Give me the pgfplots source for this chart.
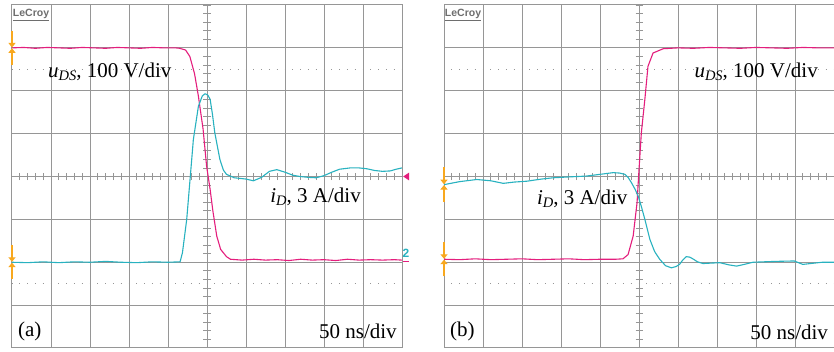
\documentclass[border=0pt]{standalone}
\usepackage{pgfplots}
\pgfplotsset{compat=1.18}
\usepackage{fontspec}
\setmainfont{Liberation Serif}
\newfontfamily\logofont{Liberation Sans}
\usetikzlibrary{arrows.meta}
\definecolor{magen}{RGB}{228,30,125}
\definecolor{cyanT}{RGB}{40,178,192}
\definecolor{gridc}{RGB}{150,150,150}
\definecolor{orangeM}{RGB}{248,168,30}
\definecolor{logoc}{RGB}{110,110,110}
\newcommand{\lab}{\fontsize{21}{25}\selectfont}
\newcommand{\sub}[1]{\raisebox{-0.3ex}{\fontsize{14.5}{14.5}\selectfont\itshape #1}}
\pgfplotsset{scopestyle/.style={
  scale only axis, width=390pt, height=343pt,
  xmin=0, xmax=10, ymin=-4, ymax=4,
  xtick={0,...,10}, ytick={-4,...,4}, xticklabels={}, yticklabels={},
  major tick length=0pt,
  grid=major, grid style={gridc, line width=1pt},
  axis line style={gridc, line width=1pt},
  clip=false, anchor=south west,
},
trace/.style={line width=1.1pt, line join=round, mark=none}}

\pgfplotstableread{
x y
0 3.00
0.3 3.01
0.6 2.99
0.9 3.01
1.2 3.00
1.5 2.99
1.8 3.01
2.1 3.00
2.4 2.99
2.7 3.01
3.0 3.00
3.3 2.99
3.6 3.01
3.9 3.00
4.2 3.00
4.3 2.99
4.45 2.95
4.56 2.80
4.68 2.40
4.78 1.87
4.90 1.10
4.99 0.24
5.08 -0.30
5.15 -0.80
5.25 -1.39
5.35 -1.70
5.50 -1.87
5.60 -1.93
5.9 -1.95
6.2 -1.93
6.5 -1.95
6.8 -1.94
7.1 -1.96
7.4 -1.93
7.7 -1.95
8.0 -1.94
8.3 -1.96
8.6 -1.93
8.9 -1.95
9.2 -1.94
9.5 -1.95
9.8 -1.94
10 -1.95
}\Au
\pgfplotstableread{
x y
0 -2.00
0.4 -2.01
0.8 -1.99
1.2 -2.01
1.6 -1.99
2.0 -2.00
2.4 -1.98
2.8 -2.00
3.2 -2.01
3.6 -1.99
4.0 -2.00
4.31 -1.99
4.37 -1.78
4.48 -1.00
4.58 0.09
4.65 0.86
4.78 1.64
4.88 1.88
4.95 1.93
5.02 1.90
5.08 1.80
5.14 1.45
5.20 1.02
5.33 0.40
5.42 0.15
5.50 0.05
5.7 -0.03
6.0 -0.06
6.19 -0.10
6.4 -0.02
6.6 0.12
6.79 0.16
7.0 0.10
7.2 0.03
7.38 0.00
7.6 -0.02
7.8 -0.03
8.0 0.02
8.2 0.10
8.4 0.17
8.67 0.20
8.9 0.20
9.1 0.18
9.3 0.14
9.5 0.12
9.7 0.13
9.85 0.17
10 0.20
}\Ai
\pgfplotstableread{
x y
0 -1.93
0.4 -1.94
0.8 -1.92
1.2 -1.94
1.6 -1.93
2.0 -1.92
2.4 -1.94
2.8 -1.93
3.2 -1.92
3.6 -1.94
4.0 -1.93
4.4 -1.93
4.59 -1.92
4.72 -1.82
4.85 -1.39
4.95 -0.61
5.00 0.16
5.06 1.02
5.15 1.80
5.23 2.57
5.36 2.88
5.62 2.98
6.0 3.00
6.4 2.99
6.8 3.01
7.2 3.00
7.6 2.99
8.0 3.01
8.4 3.00
8.8 2.99
9.2 3.01
9.6 3.00
10 3.00
}\Bu
\pgfplotstableread{
x y
0 -0.19
0.4 -0.12
0.84 -0.07
1.2 -0.10
1.52 -0.16
1.8 -0.13
2.12 -0.11
2.5 -0.06
2.8 -0.03
3.2 -0.01
3.65 0.01
4.0 0.05
4.34 0.09
4.5 0.08
4.64 0.05
4.72 -0.02
4.81 -0.15
4.90 -0.30
4.98 -0.46
5.06 -0.70
5.15 -1.00
5.28 -1.47
5.40 -1.75
5.53 -1.93
5.68 -2.08
5.83 -2.13
5.95 -2.10
6.04 -2.05
6.12 -1.95
6.21 -1.87
6.30 -1.88
6.38 -1.92
6.5 -1.99
6.64 -2.03
6.85 -2.02
7.07 -2.01
7.3 -2.06
7.5 -2.09
7.7 -2.05
7.92 -2.00
8.2 -1.99
8.5 -1.98
8.98 -1.97
9.2 -2.05
9.4 -2.03
9.7 -2.00
10 -2.00
}\Bi

\newcommand{\scopedeco}{%
  \draw[gridc, line width=0.9pt, dash pattern=on 1pt off 6.8pt, dash phase=-7.3pt] (axis cs:0,2.5) -- (axis cs:10,2.5);
  \draw[gridc, line width=0.9pt, dash pattern=on 1pt off 6.8pt, dash phase=-7.3pt] (axis cs:0,-2.5) -- (axis cs:10,-2.5);
  \pgfplotsinvokeforeach{0.2,0.4,...,9.9}{\draw[gridc, line width=0.8pt] (axis cs:##1,-0.085) -- (axis cs:##1,0.085);}
  \pgfplotsinvokeforeach{-3.8,-3.6,...,3.9}{\draw[gridc, line width=0.8pt] (axis cs:4.91,##1) -- (axis cs:5.09,##1);}
  \node[anchor=north west, inner sep=0, text=logoc] at (axis cs:0.02,3.90) {\logofont\bfseries\fontsize{10.5}{11}\selectfont\underline{LeCroy}};
}
\newcommand{\gndmark}[1]{%
  \draw[orangeM, line width=2.6pt, -{Triangle[width=7pt,length=4.5pt]}] (axis cs:0,#1+0.4) -- (axis cs:0,#1+0.01);
  \draw[orangeM, line width=2.6pt, -{Triangle[width=7pt,length=4.5pt]}] (axis cs:0,#1-0.4) -- (axis cs:0,#1-0.01);
}

\begin{document}
\begin{tikzpicture}
\fill[white] (0,0) rectangle (834pt,352pt);
\begin{axis}[scopestyle, at={(12pt,4pt)}]
  \scopedeco
  \addplot[trace, magen] table[x=x,y=y] {\Au};
  \addplot[trace, cyanT] table[x=x,y=y] {\Ai};
  \gndmark{3.0}
  \gndmark{-2.0}
  \fill[magen] (axis cs:10.03,0) -- (axis cs:10.18,0.09) -- (axis cs:10.18,-0.09) -- cycle;
  \node[text=cyanT, anchor=south west, inner sep=0] at (axis cs:10.01,-1.9) {\logofont\bfseries\fontsize{12}{12}\selectfont 2};
  \draw[magen, line width=1.6pt] (axis cs:10.02,-1.98) -- (axis cs:10.17,-1.98);
  \node[anchor=base west, inner sep=0] at (axis cs:0.92,2.31) {\lab\textit{u}\sub{DS}, 100 V/div};
  \node[anchor=base west, inner sep=0] at (axis cs:6.62,-0.6) {\lab\textit{i}\sub{D}, 3 A/div};
  \node[anchor=base west, inner sep=0] at (axis cs:0.15,-3.74) {\lab (a)};
  \node[anchor=base east, inner sep=0] at (axis cs:9.87,-3.78) {\lab 50 ns/div};
\end{axis}
\begin{axis}[scopestyle, at={(444pt,4pt)}]
  \scopedeco
  \addplot[trace, magen] table[x=x,y=y] {\Bu};
  \addplot[trace, cyanT] table[x=x,y=y] {\Bi};
  \gndmark{-0.19}
  \gndmark{-1.93}
  \node[anchor=base east, inner sep=0] at (axis cs:9.59,2.31) {\lab\textit{u}\sub{DS}, 100 V/div};
  \node[anchor=base west, inner sep=0] at (axis cs:2.38,-0.66) {\lab\textit{i}\sub{D}, 3 A/div};
  \node[anchor=base west, inner sep=0] at (axis cs:0.15,-3.74) {\lab (b)};
  \node[anchor=base east, inner sep=0] at (axis cs:9.85,-3.80) {\lab 50 ns/div};
\end{axis}
\pgfresetboundingbox
\path (0,0) rectangle (834pt,352pt);
\end{tikzpicture}
\end{document}
